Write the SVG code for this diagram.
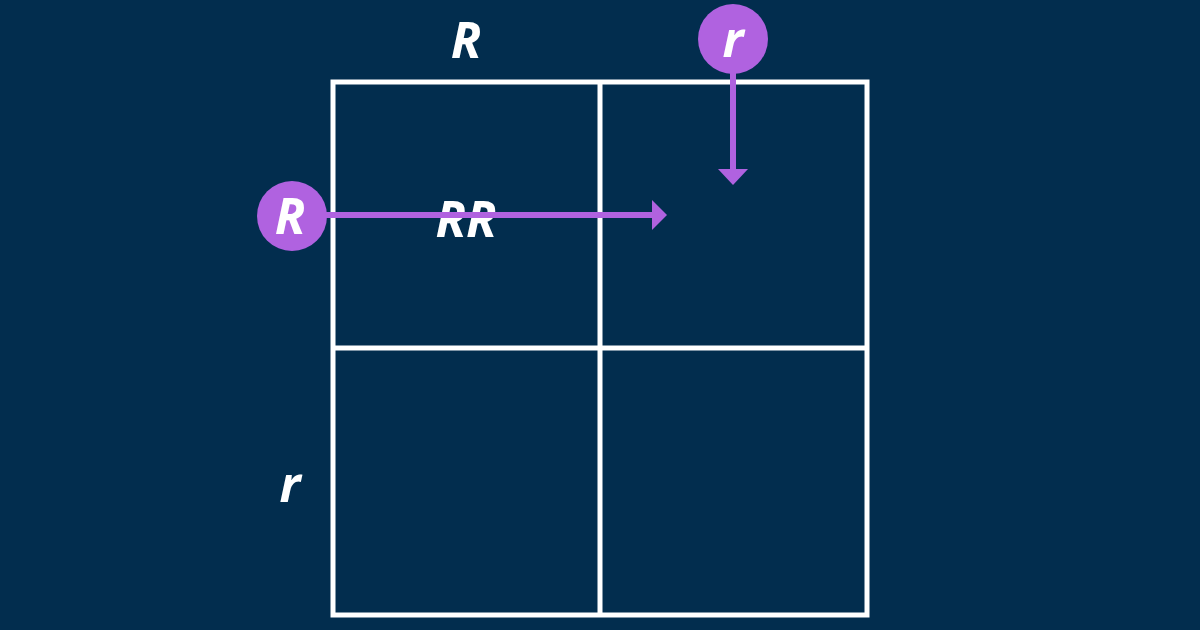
<svg xmlns="http://www.w3.org/2000/svg" width="1200" height="630" viewBox="0 0 1200 630">
<style>
.t{font-family:"Open Sans","Liberation Sans",sans-serif;font-weight:700;font-style:italic;fill:#fff;text-anchor:middle;font-size:50px}
.g{stroke:#fff;stroke-width:5;fill:none}
.a{stroke:#B062E0;stroke-width:6;fill:none}
.c{fill:#B062E0}
</style>
<rect width="1200" height="630" fill="#022D4E"/>
<g id="grid">
<rect class="g" x="333" y="82" width="534" height="533"/>
<line class="g" x1="600" y1="82" x2="600" y2="615"/>
<line class="g" x1="333" y1="348" x2="867" y2="348"/>
</g>
<g id="label-R-top"><text class="t" x="466" y="58">R</text></g>
<g id="label-r-left"><text class="t" x="290" y="502">r</text></g>
<g id="label-RR"><text class="t" x="466" y="237">RR</text></g>
<g id="connectors">
<line class="a" x1="325" y1="215" x2="652" y2="215"/>
<polygon class="c" points="652,200 667,215 652,230"/>
<line class="a" x1="733" y1="70" x2="733" y2="170"/>
<polygon class="c" points="718,169 748,169 733,185"/>
</g>
<g id="node-R"><circle class="c" cx="292" cy="216" r="35"/><text class="t" x="290" y="234">R</text></g>
<g id="node-r"><circle class="c" cx="733" cy="39" r="35"/><text class="t" x="733" y="57">r</text></g>
</svg>
